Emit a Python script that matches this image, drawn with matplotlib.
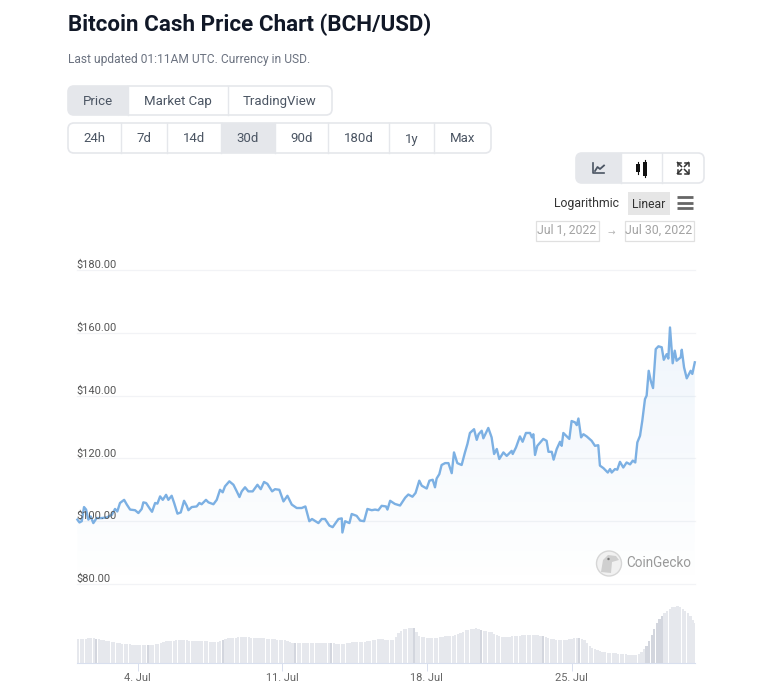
import numpy as np
import matplotlib
matplotlib.use('Agg')
import matplotlib.pyplot as plt
from matplotlib.patches import FancyBboxPatch, Rectangle, Circle, Polygon

# preco (dia de julho, USD)
price_days = [1.09, 1.19, 1.30, 1.41, 1.51, 1.62, 1.73, 1.86, 2.02, 2.27, 2.51, 2.75, 2.91, 3.02, 3.15, 3.35, 3.48, 3.64, 3.88, 4.04,
              4.20, 4.28, 4.41, 4.60, 4.70, 4.85, 4.96, 5.09, 5.22, 5.38, 5.49, 5.65, 5.77, 5.93, 6.09, 6.25, 6.38, 6.46, 6.62, 6.86,
              6.99, 7.10, 7.31, 7.43, 7.67, 7.83, 7.99, 8.12, 8.23, 8.44, 8.64, 8.80, 8.93, 9.04, 9.20, 9.36, 9.57, 9.80, 9.96, 10.12,
              10.28, 10.51, 10.65, 10.86, 11.06, 11.25, 11.46, 11.70, 11.94, 12.12, 12.31, 12.44, 12.75, 12.91, 13.07, 13.28, 13.44, 13.72, 13.88, 13.91,
              14.04, 14.25, 14.36, 14.60, 14.77, 14.96, 15.12, 15.33, 15.49, 15.65, 15.81, 16.02, 16.09, 16.22, 16.45, 16.70, 16.95, 17.10, 17.30, 17.45,
              17.63, 17.75, 17.99, 18.12, 18.28, 18.39, 18.47, 18.60, 18.71, 18.88, 19.04, 19.20, 19.31, 19.47, 19.68, 19.84, 19.96, 20.08, 20.28, 20.41,
              20.50, 20.65, 20.73, 20.97, 21.13, 21.25, 21.38, 21.50, 21.70, 21.86, 22.10, 22.15, 22.31, 22.50, 22.63, 22.79, 22.99, 23.08, 23.15, 23.23,
              23.34, 23.63, 23.79, 23.88, 24.04, 24.13, 24.28, 24.44, 24.52, 24.60, 24.89, 25.00, 25.16, 25.25, 25.33, 25.46, 25.57, 25.73, 25.97, 26.13,
              26.29, 26.37, 26.54, 26.75, 26.86, 26.94, 27.10, 27.21, 27.34, 27.50, 27.66, 27.83, 27.96, 28.08, 28.18, 28.31, 28.42, 28.55, 28.63, 28.73,
              28.83, 28.94, 29.07, 29.20, 29.36, 29.46, 29.60, 29.68, 29.76, 29.89, 29.99, 30.08, 30.28, 30.33, 30.44, 30.57, 30.76, 30.84, 30.96]
price_usd = [100.5, 99.6, 100.0, 104.5, 103.7, 100.5, 101.5, 99.4, 101.0, 101.0, 101.2, 102.0, 103.9, 103.1, 105.8, 106.8, 105.3, 103.7, 103.5, 102.6,
             103.9, 106.0, 105.8, 103.9, 103.0, 105.8, 105.6, 107.9, 106.8, 108.4, 106.8, 108.1, 105.8, 102.4, 102.8, 106.5, 104.9, 103.5, 104.5, 104.7,
             105.8, 105.4, 106.8, 106.0, 105.4, 106.8, 110.0, 109.2, 111.1, 112.7, 111.6, 109.5, 107.7, 109.5, 110.8, 109.5, 109.5, 111.6, 110.2, 112.5,
             111.9, 109.5, 110.2, 110.0, 106.3, 108.1, 105.3, 104.2, 104.2, 104.7, 100.0, 100.7, 99.4, 100.7, 100.7, 98.6, 98.1, 100.7, 100.9, 96.4,
             100.0, 99.4, 102.3, 101.7, 100.2, 100.0, 103.9, 103.5, 103.7, 103.5, 104.9, 104.7, 103.7, 106.5, 105.5, 105.0, 107.5, 108.5, 107.8, 109.0,
             112.9, 111.3, 110.4, 112.9, 113.2, 110.8, 113.6, 115.0, 117.9, 118.5, 118.5, 115.3, 121.9, 118.5, 117.9, 121.9, 124.6, 128.1, 129.3, 125.9,
             127.7, 128.8, 126.4, 129.7, 126.7, 121.4, 123.0, 119.8, 121.9, 120.8, 122.4, 121.4, 123.5, 127.0, 125.3, 128.1, 128.1, 126.7, 127.7, 121.1,
             124.0, 126.2, 125.6, 122.1, 122.1, 119.6, 123.0, 125.3, 124.0, 128.1, 126.2, 131.9, 131.5, 130.6, 132.7, 126.7, 127.7, 127.0, 125.6, 124.0,
             124.2, 117.7, 116.9, 115.5, 116.6, 115.5, 116.6, 116.4, 118.9, 117.1, 118.7, 118.1, 119.3, 118.7, 125.1, 127.2, 132.0, 138.9, 140.0, 147.9,
             144.7, 142.4, 154.8, 155.7, 155.4, 151.4, 153.2, 151.8, 161.7, 150.3, 154.3, 151.1, 152.2, 154.6, 149.0, 145.5, 147.9, 146.9, 150.6]

# volume (escala relativa, sem rotulos no original), uma barra a cada 3 horas
volume_rel = [24, 24, 24, 24.5, 25, 25, 25, 24.5, 24, 23.5, 23, 22.5, 22, 21.5, 21, 20.5, 20, 19.5, 19, 19,
              19, 18.5, 18, 18, 18, 18, 18, 18, 18, 18.5, 19, 19.5, 20, 21, 22, 22, 22, 22.5, 23, 23,
              23, 23, 23, 22.5, 22, 22, 22, 22, 22, 22, 22, 21.5, 21, 21, 21, 22, 23, 24, 25, 25,
              25, 25.5, 26, 26, 26, 26, 26, 25.5, 25, 25, 25, 25, 25, 24.5, 24, 24, 24, 23.5, 23, 23,
              23, 22, 21, 20.5, 20, 20, 20, 20, 20, 20, 20, 20, 20, 20, 20, 20, 20, 20, 20, 20,
              19, 19, 19, 19.5, 20, 20.5, 21, 21, 21, 21, 21, 21.5, 22, 22.5, 23, 23.5, 24, 24, 24, 23.5,
              23, 23, 23, 26, 30, 32, 34, 34.5, 35, 35, 35, 31, 27, 26.5, 26, 25.5, 25, 25, 25, 25.5,
              26, 26.5, 27, 27, 27, 27.5, 28, 29, 30, 31.5, 33, 33.5, 34, 34.5, 35, 34, 33, 32.5, 32, 31.5,
              31, 29.5, 28, 27, 26, 26, 26, 26.5, 27, 27, 27, 27.5, 28, 28, 28, 28, 28, 28, 28, 27.5,
              27, 26, 25, 24.5, 24, 23.5, 23, 23, 23, 23.5, 24, 24.5, 25, 25, 25, 24, 23, 20, 17, 15.5,
              14, 13, 12, 11.5, 11, 10.5, 10, 10, 10, 9.5, 9, 9, 9, 8.5, 8, 8, 8, 9.5, 11, 14,
              17, 22, 28, 34, 40, 44, 47, 50, 52, 54, 56, 56.5, 57, 56, 54, 52, 50, 47, 43, 40]
darker_bars = [7, 27, 56, 84, 98, 130, 156, 180, 194, 220, 221, 222, 223, 224, 225, 226]

y_ticks = [80, 100, 120, 140, 160, 180]
y_labels = ['$80.00', '$100.00', '$120.00', '$140.00', '$160.00', '$180.00']
x_ticks = [4, 11, 18, 25]
x_labels = ['4. Jul', '11. Jul', '18. Jul', '25. Jul']

W, H = 770, 692
UI_FONT = ['Roboto', 'DejaVu Sans']
TEXT = '#4b5563'
BORDER = '#e5e7eb'
ACTIVE = '#e5e7eb'

fig = plt.figure(figsize=(W / 100, H / 100), dpi=100, facecolor='white')


def box(left, top, right, bottom):
    return [left / W, 1 - bottom / H, (right - left) / W, (bottom - top) / H]


# area do preco
ax = fig.add_axes(box(77, 270, 695, 584))
ax.set_xlim(1.07, 30.97)
ax.set_ylim(80, 180)
ax.patch.set_alpha(0)
for s in ax.spines.values():
    s.set_visible(False)
ax.set_xticks([])
ax.set_yticks([])
for v, lab in zip(y_ticks, y_labels):
    ax.axhline(v, color='#f2f3f6', lw=0.9, zorder=1, clip_on=False)
    ax.annotate(lab, (1.07, v), xytext=(-0.5, -0.2), textcoords='offset points', fontsize=7.9,
                color='#555555', family=UI_FONT, va='bottom', ha='left', zorder=5)

# degrade azul por baixo da linha
grad = np.zeros((256, 2, 4))
grad[..., 0] = 0.486
grad[..., 1] = 0.69
grad[..., 2] = 0.89
grad[..., 3] = np.linspace(0.15, 0.0, 256)[:, None]
img = ax.imshow(grad, extent=[1.07, 30.97, 80, 180], origin='upper', aspect='auto', zorder=2)
clip = ax.fill_between(price_days, price_usd, 80, color='none')
img.set_clip_path(clip.get_paths()[0], transform=ax.transData)
ax.set_xlim(1.07, 30.97)
ax.set_ylim(80, 180)
ax.plot(price_days, price_usd, color='#7cb0e3', lw=1.7, zorder=4, solid_joinstyle='round', clip_on=False)

# volume
vol = fig.add_axes(box(77, 585, 695, 663))
vol_days = np.arange(len(volume_rel)) * 0.125 + 1.07
bar_colors = ['#d3d6de' if i in darker_bars else '#e6e8ed' for i in range(len(volume_rel))]
vol.bar(vol_days, volume_rel, width=0.11, color=bar_colors, align='edge', linewidth=0)
vol.set_xlim(1.07, 30.97)
vol.set_ylim(0, 78)
vol.patch.set_alpha(0)
for name in ['top', 'left', 'right']:
    vol.spines[name].set_visible(False)
vol.spines['bottom'].set_color('#d8dfee')
vol.spines['bottom'].set_linewidth(0.8)
vol.set_yticks([])
vol.set_xticks(x_ticks)
vol.set_xticklabels(x_labels, fontsize=7.9, color='#666666', family=UI_FONT)
vol.tick_params(axis='x', length=5.8, width=0.7, color='#d8dfee', pad=1.5)

# camada da interface, em pixels da figura
ui = fig.add_axes([0, 0, 1, 1], zorder=10)
ui.set_xlim(0, W)
ui.set_ylim(H, 0)
ui.axis('off')
ui.patch.set_alpha(0)


def button_group(left, right, top, bottom, dividers, active, labels=None):
    frame = FancyBboxPatch((left, top), right - left, bottom - top, boxstyle='round,pad=0,rounding_size=6',
                           fc='white', ec=BORDER, lw=1.2, zorder=2)
    ui.add_patch(frame)
    edges = [left] + dividers + [right]
    fill = Rectangle((edges[active], top), edges[active + 1] - edges[active], bottom - top, fc=ACTIVE, ec='none', zorder=3)
    ui.add_patch(fill)
    fill.set_clip_path(frame)
    for d in dividers:
        ui.plot([d, d], [top, bottom], color=BORDER, lw=1, zorder=4)
    if labels:
        for i, lab in enumerate(labels):
            ui.text((edges[i] + edges[i + 1]) / 2, (top + bottom) / 2 + 1, lab, ha='center', va='center',
                    fontsize=9.5, color=TEXT, family=UI_FONT, zorder=5)


ui.text(68, 25, 'Bitcoin Cash Price Chart (BCH/USD)', fontsize=16.15, fontweight='bold', color='#111827',
        family=UI_FONT, va='center')
ui.text(68, 59, 'Last updated 01:11AM UTC. Currency in USD.', fontsize=8.65, color='#6b7280', family=UI_FONT, va='center')

button_group(68, 332, 86, 115, [128, 228], 0, ['Price', 'Market Cap', 'TradingView'])
button_group(68, 491, 123, 153, [121, 167, 221, 275, 328, 389, 434], 3,
             ['24h', '7d', '14d', '30d', '90d', '180d', '1y', 'Max'])
button_group(576, 704, 153, 183, [621, 662], 0)

# icone de linha
ui.plot([593, 593, 604], [163, 173, 173], color='#4b5563', lw=1.2, zorder=6)
ui.plot([595, 597.5, 600, 604], [171, 167, 169, 165.5], color='#4b5563', lw=1.3, zorder=6)
# icone de velas
ui.add_patch(Rectangle((636, 164), 4, 8, fc='#111111', ec='none', zorder=6))
ui.plot([638, 638], [162, 174], color='#111111', lw=0.8, zorder=6)
ui.add_patch(Rectangle((643, 162), 4, 14, fc='#111111', ec='none', zorder=6))
ui.plot([645, 645], [160, 177], color='#111111', lw=0.8, zorder=6)
# icone de tela cheia
for sx, sy in [(-1, -1), (1, -1), (-1, 1), (1, 1)]:
    ui.plot([683 + sx * 1.5, 683 + sx * 5.5], [168 + sy * 1.5, 168 + sy * 5.5], color='#333333', lw=1.1, zorder=6)
    ui.plot([683 + sx * 2, 683 + sx * 5.5, 683 + sx * 5.5], [168 + sy * 5.5, 168 + sy * 5.5, 168 + sy * 2],
            color='#333333', lw=1.1, zorder=6)

ui.text(619, 204, 'Logarithmic', fontsize=8.85, color='#333333', family=UI_FONT, ha='right', va='center')
ui.add_patch(Rectangle((628, 192), 42, 23, fc='#e6e6e6', ec='none'))
ui.text(648.5, 204, 'Linear', fontsize=8.7, color='#333333', family=UI_FONT, ha='center', va='center')
for y in [197, 202.5, 208]:
    ui.plot([677, 693], [y, y], color='#666666', lw=2, solid_capstyle='butt')

ui.add_patch(Rectangle((535.5, 220.5), 63.5, 20, fc='white', ec='#e0e0e0', lw=0.9))
ui.add_patch(Rectangle((624.5, 220.5), 69.5, 20, fc='white', ec='#e0e0e0', lw=0.9))
ui.text(566.5, 230.5, 'Jul 1, 2022', fontsize=8.8, color='#a3a3a3', family=UI_FONT, ha='center', va='center')
ui.text(659, 230.5, 'Jul 30, 2022', fontsize=8.9, color='#a3a3a3', family=UI_FONT, ha='center', va='center')
ui.text(611, 232, '→', fontsize=6.5, color='#b5b5b5', family='DejaVu Sans', ha='center', va='center')

# marca d'agua
ui.add_patch(Circle((609, 563.5), 12.5, fc='#f1f1f1', ec='#d6d6d6', lw=1, zorder=6))
ui.add_patch(Polygon([[601, 572], [603, 560], [608, 555], [616, 556], [619, 560], [612, 562], [611, 573]],
                     closed=True, fc='#cfcfcf', ec='none', zorder=7))
ui.add_patch(Circle((608.5, 559), 1.2, fc='#777777', ec='none', zorder=8))
ui.text(626, 563, 'CoinGecko', fontsize=9.75, color='#999999', family=UI_FONT, va='center', zorder=6)

fig.savefig('out.png', dpi=100, facecolor='white')
